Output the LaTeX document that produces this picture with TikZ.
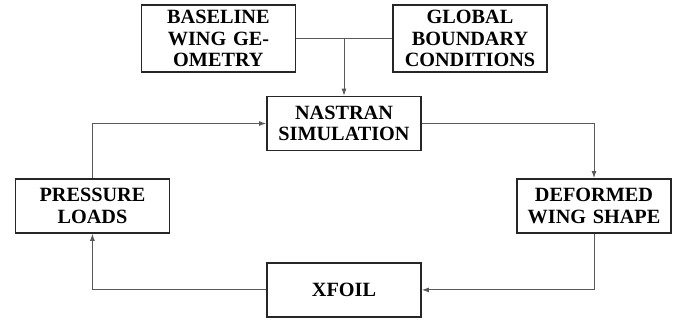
\documentclass[tikz,border=0pt]{standalone}
\usepackage{fontspec}
\setmainfont{Liberation Serif}[BoldFont = {Liberation Serif Bold}]
\usetikzlibrary{
    arrows.meta,
    calc,
    positioning
}
\tikzset{
    every picture/.style = {
        > = {Latex[length = 5pt, width = 3.5pt]}
    },
    block/.style = {
        draw = black!85,
        line width = 1.2pt,
        rectangle,
        minimum width = 3.85cm,
        minimum height = 1.35cm,
        inner sep = 2pt,
        text width = 3.6cm,
        align = center,
        font = \fontsize{14.4}{15.2}\selectfont\rmfamily\bfseries
    },
    tall/.style = {
        minimum height = 1.675cm
    },
    link/.style = {
        draw = black!65,
        line width = 0.6pt
    }
}

\begin{document}
\begin{tikzpicture}[node distance = 2cm, on grid]
    \useasboundingbox (0,0) rectangle (16.925,-8);
    \node[block] (nastran) at (8.6,-3.0875) {NASTRAN\\SIMULATION};
    \node[block, tall] [above left = 2.125cm and 3.14cm of nastran] (baseline) {BASELINE\\WING GE-\\OMETRY};
    \node[block, tall] [above right = 2.125cm and 3.15cm of nastran] (global) {GLOBAL\\BOUNDARY\\CONDITIONS};
    \node[block] [below left = 2.06cm and 6.29cm of nastran] (pressure) {PRESSURE\\LOADS};
    \node[block] [below right = 2.06cm and 6.25cm of nastran] (deformed) {DEFORMED\\WING SHAPE};
    \node[block] [below = 4.16cm of nastran] (xfoil) {XFOIL};

    \coordinate (join) at (nastran |- baseline);
    \path[link] (baseline) -- (global);
    \path[link, ->] (join) -- (nastran);
    \path[link, ->] (nastran) -| (deformed);
    \path[link, ->] (deformed) |- (xfoil);
    \path[link, ->] (xfoil) -| (pressure);
    \path[link, ->] (pressure) |- (nastran);
\end{tikzpicture}
\end{document}
